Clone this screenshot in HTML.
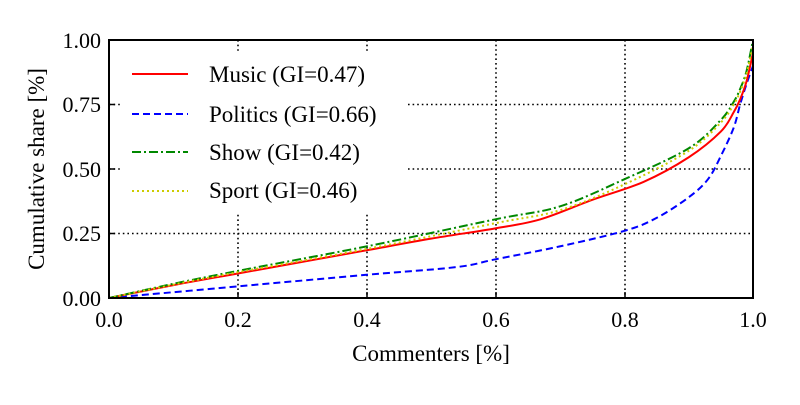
<!DOCTYPE html>
<html><head><meta charset="utf-8"><style>
body{margin:0;background:#fff;width:800px;height:400px;overflow:hidden}
text{font-family:"Liberation Serif","DejaVu Serif",serif;fill:#000}
</style></head><body>
<svg id="s" width="800" height="400" xmlns="http://www.w3.org/2000/svg">
<g stroke="#000" stroke-width="1.6" stroke-dasharray="1.6,3">
<line x1="238" y1="40" x2="238" y2="298"/><line x1="367" y1="40" x2="367" y2="298"/>
<line x1="496" y1="40" x2="496" y2="298"/><line x1="625" y1="40" x2="625" y2="298"/>
<line x1="109" y1="104.5" x2="753" y2="104.5"/><line x1="109" y1="169" x2="753" y2="169"/>
<line x1="109" y1="233.5" x2="753" y2="233.5"/>
</g>
<g id="curves" fill="none" stroke-width="2"></g>
<rect x="121" y="52" width="287" height="162" fill="#fff"/>
<g stroke-width="2">
<line x1="132" y1="74" x2="188" y2="74" stroke="#f00"/>
<line x1="132" y1="114" x2="188" y2="114" stroke="#00f" stroke-dasharray="7,4"/>
<line x1="132" y1="152" x2="188" y2="152" stroke="#080" stroke-dasharray="9,3,2,3"/>
<line x1="132" y1="191" x2="188" y2="191" stroke="#cc0" stroke-dasharray="2,3"/>
</g>
<g font-size="23">
<text x="209" y="82">Music (GI=0.47)</text>
<text x="209" y="122">Politics (GI=0.66)</text>
<text x="209" y="160">Show (GI=0.42)</text>
<text x="209" y="198">Sport (GI=0.46)</text>
</g>
<rect x="109" y="40" width="644" height="258" fill="none" stroke="#000" stroke-width="2"/>
<g stroke="#000" stroke-width="1.5">
<line x1="238" y1="298" x2="238" y2="292"/><line x1="367" y1="298" x2="367" y2="292"/>
<line x1="496" y1="298" x2="496" y2="292"/><line x1="625" y1="298" x2="625" y2="292"/>
<line x1="109" y1="104.5" x2="115" y2="104.5"/><line x1="109" y1="169" x2="115" y2="169"/>
<line x1="109" y1="233.5" x2="115" y2="233.5"/>
</g>
<g font-size="22" text-anchor="middle">
<text x="109" y="327">0.0</text><text x="238" y="327">0.2</text><text x="367" y="327">0.4</text>
<text x="496" y="327">0.6</text><text x="625" y="327">0.8</text><text x="753" y="327">1.0</text>
</g>
<g font-size="22" text-anchor="end">
<text x="101" y="48">1.00</text><text x="101" y="112">0.75</text><text x="101" y="177">0.50</text>
<text x="101" y="241">0.25</text><text x="101" y="306">0.00</text>
</g>
<text x="431" y="361" font-size="23" text-anchor="middle">Commenters [%]</text>
<text transform="translate(44,169) rotate(-90)" font-size="23" text-anchor="middle">Cumulative share [%]</text>
</svg>
<script>
var S=[
["#00f","7,4",[[0,0],[0.2,0.045],[0.4,0.09],[0.54,0.12],[0.6,0.15],[0.7,0.2],[0.8,0.26],[0.85,0.31],[0.9,0.39],[0.93,0.46],[0.95,0.55],[0.97,0.66],[0.98,0.75],[0.99,0.83],[1,0.9]]],
["#f00","",[[0,0],[0.1,0.05],[0.2,0.095],[0.3,0.14],[0.4,0.185],[0.5,0.23],[0.6,0.27],[0.67,0.305],[0.75,0.38],[0.83,0.45],[0.9,0.545],[0.95,0.645],[0.97,0.72],[0.98,0.77],[0.99,0.84],[1,0.95]]],
["#080","9,3,2,3",[[0,0],[0.1,0.055],[0.2,0.105],[0.4,0.2],[0.6,0.305],[0.7,0.355],[0.8,0.46],[0.9,0.58],[0.95,0.69],[0.97,0.76],[0.98,0.81],[0.99,0.88],[1,1]]],
["#cc0","2,3",[[0,0],[0.1,0.052],[0.2,0.1],[0.4,0.19],[0.6,0.29],[0.7,0.34],[0.8,0.44],[0.9,0.57],[0.95,0.68],[0.97,0.75],[0.98,0.8],[0.99,0.87],[1,0.98]]]
];
var g=document.getElementById("curves");
S.forEach(function(s){
var P=s[2].map(function(d){return [109+d[0]*644,298-d[1]*258]});
var d="M"+P[0][0]+","+P[0][1];
for(var i=0;i<P.length-1;i++){var p0=P[i-1]||P[i],p1=P[i],p2=P[i+1],p3=P[i+2]||p2;
d+=" C"+(p1[0]+(p2[0]-p0[0])/6)+","+(p1[1]+(p2[1]-p0[1])/6)+" "+(p2[0]-(p3[0]-p1[0])/6)+","+(p2[1]-(p3[1]-p1[1])/6)+" "+p2[0]+","+p2[1];}
var p=document.createElementNS("http://www.w3.org/2000/svg","path");
p.setAttribute("d",d);p.setAttribute("stroke",s[0]);if(s[1])p.setAttribute("stroke-dasharray",s[1]);g.appendChild(p);});
</script>
</body></html>
